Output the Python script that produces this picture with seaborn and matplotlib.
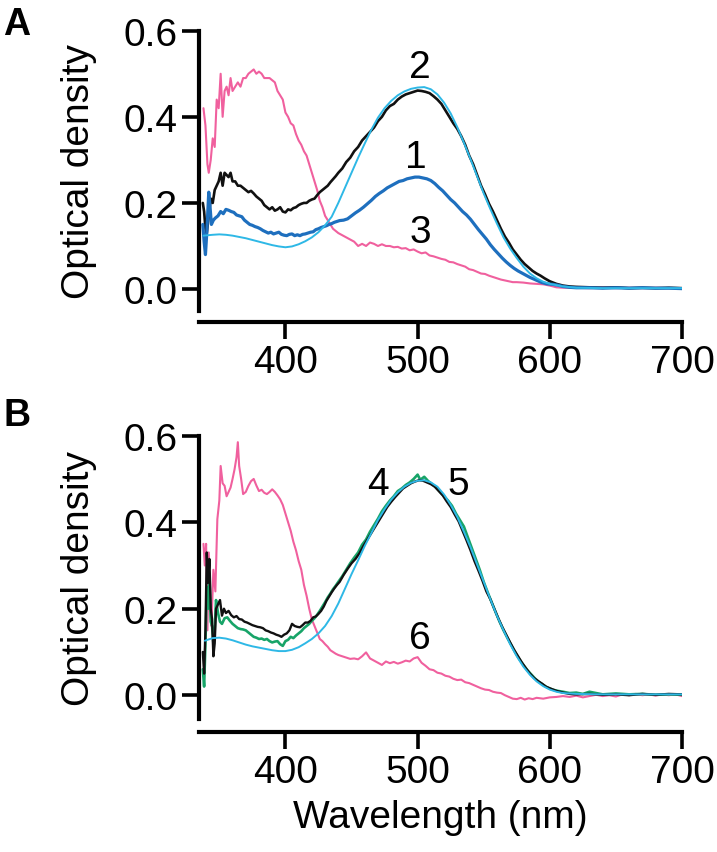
import numpy as np
import pandas as pd
import matplotlib
matplotlib.use("Agg")
import matplotlib.pyplot as plt
import seaborn as sns

# ---------------- Panel A data ----------------
wl_A3 = [338, 339.5, 341, 342, 343.5, 345, 346.5, 348, 349.5, 351, 352.5, 354, 355.5, 357, 358.5, 360,
         362, 364, 366, 368, 370, 372, 374, 376, 378, 380, 382, 384, 386, 388, 390, 392, 394, 396, 398,
         400, 402, 404, 406, 408, 410, 412, 414, 416, 418, 420, 422, 424, 426, 428, 430, 432, 434, 436,
         438, 440, 443, 446, 449, 452, 455, 458, 461, 464, 467, 470, 473, 476, 479, 482, 485, 488, 491,
         494, 497, 500, 503, 506, 509, 512, 515, 518, 521, 524, 527, 530, 533, 536, 539, 542, 545, 548,
         551, 554, 557, 560, 563, 566, 569, 572, 575, 580, 585, 590, 595, 600, 605, 610, 620, 630, 640,
         650, 660, 670, 680, 690, 700]
od_A3 = [0.42, 0.38, 0.29, 0.27, 0.30, 0.35, 0.33, 0.44, 0.42, 0.50, 0.40, 0.46, 0.47, 0.45, 0.49, 0.46,
         0.47, 0.48, 0.47, 0.49, 0.49, 0.50, 0.505, 0.51, 0.50, 0.505, 0.50, 0.49, 0.49, 0.49, 0.485, 0.48,
         0.46, 0.45, 0.44, 0.41, 0.40, 0.385, 0.38, 0.36, 0.345, 0.335, 0.32, 0.31, 0.29, 0.27, 0.25, 0.23,
         0.205, 0.19, 0.17, 0.16, 0.15, 0.14, 0.135, 0.13, 0.125, 0.12, 0.115, 0.11, 0.10, 0.105, 0.10,
         0.108, 0.105, 0.10, 0.104, 0.10, 0.10, 0.097, 0.098, 0.094, 0.095, 0.09, 0.092, 0.087, 0.083,
         0.085, 0.078, 0.076, 0.073, 0.07, 0.068, 0.063, 0.062, 0.058, 0.055, 0.052, 0.046, 0.044, 0.04,
         0.036, 0.035, 0.031, 0.028, 0.025, 0.022, 0.02, 0.018, 0.016, 0.016, 0.015, 0.013, 0.012, 0.011,
         0.008, 0.004, 0.003, 0.003, 0.002, 0.004, 0.002, 0.003, 0.002, 0.003, 0.002, 0.002]

wl_A2 = [337.5, 338.5, 339.5, 340.5, 342, 343.5, 345, 346.5, 348, 349.5, 351, 352.5, 354, 355.5, 357,
         358.5, 360, 362, 364, 366, 368, 370, 372, 374, 376, 378, 380, 382, 384, 386, 388, 390, 392, 394,
         396, 398, 400, 402, 404, 406, 408, 410, 412, 414, 416, 418, 420, 422, 424, 426, 428, 430, 432,
         434, 436, 438, 440, 443, 446, 449, 452, 455, 458, 461, 464, 467, 470, 473, 476, 479, 482, 485,
         488, 491, 494, 497, 500, 503, 506, 509, 512, 515, 518, 521, 524, 527, 530, 533, 536, 539, 542,
         545, 548, 551, 554, 557, 560, 563, 566, 569, 572, 575, 578, 581, 584, 587, 590, 593, 596, 600,
         605, 610, 615, 620, 630, 640, 650, 660, 670, 680, 690, 700]
od_A2 = [0.20, 0.18, 0.14, 0.13, 0.17, 0.21, 0.20, 0.23, 0.24, 0.25, 0.27, 0.24, 0.27, 0.265, 0.26,
         0.27, 0.25, 0.25, 0.24, 0.24, 0.235, 0.23, 0.225, 0.228, 0.222, 0.215, 0.21, 0.205, 0.195, 0.19,
         0.185, 0.19, 0.182, 0.185, 0.19, 0.18, 0.178, 0.185, 0.183, 0.188, 0.19, 0.195, 0.198, 0.20, 0.20,
         0.205, 0.208, 0.21, 0.218, 0.225, 0.23, 0.235, 0.24, 0.248, 0.255, 0.262, 0.27, 0.28, 0.295, 0.305,
         0.32, 0.33, 0.345, 0.355, 0.365, 0.375, 0.39, 0.40, 0.415, 0.425, 0.43, 0.44, 0.447, 0.452, 0.455,
         0.458, 0.461, 0.46, 0.458, 0.455, 0.448, 0.44, 0.43, 0.415, 0.40, 0.385, 0.372, 0.355, 0.335, 0.31,
         0.29, 0.265, 0.24, 0.22, 0.198, 0.18, 0.16, 0.14, 0.122, 0.108, 0.092, 0.08, 0.068, 0.058, 0.05,
         0.042, 0.036, 0.031, 0.025, 0.018, 0.012, 0.008, 0.006, 0.005, 0.004, 0.003, 0.004, 0.002, 0.003,
         0.002, 0.003, 0.002]

wl_A1 = [337.5, 338.5, 339.5, 340.5, 342, 343, 344, 345.5, 347, 349, 351, 353, 355, 357, 359, 361, 363,
         365, 367, 369, 371, 373, 375, 377, 379, 381, 383, 385, 387, 389, 391, 393, 395, 397, 399, 401,
         403, 405, 407, 409, 411, 413, 415, 417, 419, 421, 423, 425, 427, 429, 431, 433, 435, 437, 439,
         441, 444, 447, 450, 453, 456, 459, 462, 465, 468, 471, 474, 477, 480, 483, 486, 489, 492, 495,
         498, 501, 504, 507, 510, 513, 516, 519, 522, 525, 528, 531, 534, 537, 540, 543, 546, 549, 552,
         555, 558, 561, 564, 567, 570, 573, 576, 579, 582, 585, 588, 591, 594, 598, 602, 606, 610, 615,
         620, 630, 640, 650, 660, 670, 680, 690, 700]
od_A1 = [0.15, 0.11, 0.08, 0.13, 0.225, 0.19, 0.15, 0.16, 0.165, 0.17, 0.18, 0.175, 0.185, 0.183, 0.18,
         0.178, 0.172, 0.17, 0.168, 0.16, 0.155, 0.15, 0.148, 0.145, 0.143, 0.14, 0.136, 0.133, 0.13,
         0.132, 0.128, 0.13, 0.132, 0.127, 0.125, 0.124, 0.127, 0.128, 0.124, 0.126, 0.124, 0.127, 0.128,
         0.13, 0.132, 0.133, 0.138, 0.14, 0.143, 0.145, 0.147, 0.15, 0.152, 0.155, 0.157, 0.159, 0.16,
         0.163, 0.17, 0.177, 0.183, 0.19, 0.198, 0.206, 0.215, 0.222, 0.228, 0.235, 0.24, 0.245, 0.25,
         0.252, 0.256, 0.258, 0.26, 0.26, 0.258, 0.256, 0.252, 0.245, 0.236, 0.228, 0.218, 0.208, 0.2,
         0.19, 0.18, 0.172, 0.162, 0.15, 0.138, 0.127, 0.116, 0.103, 0.092, 0.082, 0.072, 0.063, 0.055,
         0.048, 0.042, 0.037, 0.032, 0.027, 0.023, 0.019, 0.015, 0.012, 0.011, 0.009, 0.006, 0.004, 0.003,
         0.003, 0.002, 0.003, 0.002, 0.003, 0.002, 0.002, 0.001]

wl_Afit = [338, 345, 350, 355, 360, 365, 370, 375, 380, 385, 390, 395, 400, 405, 410, 415, 420, 425, 430,
           435, 440, 445, 450, 455, 460, 465, 470, 475, 480, 485, 490, 495, 500, 505, 510, 515, 520, 525,
           530, 535, 540, 545, 550, 555, 560, 565, 570, 575, 580, 585, 590, 595, 600, 605, 610, 620, 640,
           660, 680, 700]
od_Afit = [0.124, 0.126, 0.127, 0.126, 0.124, 0.121, 0.118, 0.114, 0.11, 0.106, 0.102, 0.099, 0.097,
           0.099, 0.104, 0.111, 0.12, 0.132, 0.148, 0.168, 0.2, 0.235, 0.27, 0.305, 0.338, 0.37, 0.398,
           0.42, 0.437, 0.45, 0.459, 0.465, 0.468, 0.469, 0.464, 0.452, 0.433, 0.408, 0.376, 0.34, 0.302,
           0.262, 0.222, 0.186, 0.152, 0.12, 0.094, 0.072, 0.052, 0.036, 0.025, 0.017, 0.012, 0.009, 0.006,
           0.003, 0.002, 0.002, 0.002, 0.002]

# ---------------- Panel B data ----------------
wl_B6 = [338, 339, 340, 341, 342, 343, 344, 345.5, 347, 348.5, 350, 351, 352.5, 354, 355.5, 357, 358.5,
         360, 361.5, 363, 364, 365, 366.5, 368, 370, 372, 374, 376, 378, 380, 382, 384, 386, 388, 390,
         392, 394, 396, 398, 400, 402, 404, 406, 408, 410, 412, 414, 416, 418, 420, 422, 424, 426, 428,
         430, 432, 434, 436, 438, 440, 443, 446, 449, 452, 455, 458, 461, 464, 467, 470, 473, 476, 479,
         482, 485, 488, 491, 494, 497, 500, 503, 506, 509, 512, 515, 518, 521, 524, 527, 530, 533, 536,
         539, 542, 545, 548, 551, 554, 557, 560, 563, 566, 569, 572, 575, 578, 581, 584, 587, 590, 595,
         600, 605, 610, 615, 620, 625, 630, 635, 640, 645, 650, 655, 660, 665, 670, 675, 680, 685, 690,
         695, 700]
od_B6 = [0.35, 0.30, 0.35, 0.15, 0.33, 0.20, 0.16, 0.29, 0.24, 0.407, 0.45, 0.53, 0.49, 0.484, 0.46,
         0.47, 0.48, 0.50, 0.522, 0.55, 0.585, 0.53, 0.50, 0.465, 0.47, 0.484, 0.495, 0.50, 0.485, 0.472,
         0.475, 0.468, 0.465, 0.47, 0.476, 0.47, 0.462, 0.453, 0.44, 0.42, 0.40, 0.38, 0.355, 0.335, 0.31,
         0.29, 0.255, 0.23, 0.20, 0.175, 0.16, 0.145, 0.13, 0.125, 0.118, 0.112, 0.104, 0.1, 0.096, 0.093,
         0.09, 0.087, 0.084, 0.085, 0.083, 0.09, 0.099, 0.085, 0.08, 0.075, 0.07, 0.078, 0.074, 0.077,
         0.073, 0.076, 0.08, 0.078, 0.085, 0.088, 0.075, 0.068, 0.06, 0.058, 0.052, 0.05, 0.045, 0.043,
         0.038, 0.035, 0.036, 0.03, 0.028, 0.024, 0.02, 0.016, 0.013, 0.012, 0.008, 0.006, 0.005, 0.0,
         -0.004, -0.008, -0.009, -0.006, -0.01, -0.007, -0.009, -0.006, -0.008, -0.005, -0.004, -0.002,
         -0.004, -0.001, -0.005, -0.002, 0.001, -0.002, 0.0, -0.003, 0.002, 0.0, 0.003, 0.0, 0.002, -0.001,
         0.002, 0.0, 0.002, -0.002]

wl_B4 = [337.5, 338.5, 339.5, 340.5, 341.5, 342.5, 343.5, 344.5, 345.5, 346.5, 347.5, 349, 350.5, 352,
         353.5, 355, 357, 359, 361, 363, 365, 367, 369, 371, 373, 375, 377, 379, 381, 383, 385, 387, 389,
         391, 393, 395, 397, 399, 401, 403, 405, 407, 409, 411, 413, 415, 417, 419, 421, 423, 425, 427,
         429, 431, 433, 435, 437, 439, 441, 444, 447, 450, 453, 456, 459, 462, 465, 468, 471, 474, 477,
         480, 483, 486, 489, 492, 495, 498, 501, 504, 507, 510, 513, 516, 519, 522, 525, 528, 531, 534,
         537, 540, 543, 546, 549, 552, 555, 558, 561, 564, 567, 570, 573, 576, 579, 582, 585, 588, 591,
         594, 597, 600, 605, 610, 615, 620, 630, 640, 650, 660, 670, 680, 690, 700]
od_B4 = [0.10, 0.05, 0.15, 0.33, 0.26, 0.315, 0.2, 0.176, 0.09, 0.12, 0.2, 0.21, 0.22, 0.184, 0.2, 0.19,
         0.195, 0.185, 0.18, 0.183, 0.176, 0.175, 0.17, 0.168, 0.165, 0.162, 0.16, 0.158, 0.157, 0.155,
         0.15, 0.148, 0.145, 0.143, 0.14, 0.138, 0.135, 0.14, 0.143, 0.15, 0.165, 0.16, 0.158, 0.157, 0.162,
         0.168, 0.168, 0.172, 0.18, 0.182, 0.188, 0.195, 0.205, 0.218, 0.228, 0.238, 0.247, 0.255, 0.262,
         0.278, 0.292, 0.305, 0.315, 0.328, 0.345, 0.36, 0.375, 0.39, 0.405, 0.42, 0.435, 0.447, 0.458,
         0.468, 0.478, 0.484, 0.49, 0.494, 0.497, 0.496, 0.492, 0.488, 0.482, 0.472, 0.462, 0.448, 0.435,
         0.418, 0.402, 0.38, 0.358, 0.335, 0.31, 0.288, 0.265, 0.24, 0.222, 0.2, 0.178, 0.158, 0.14, 0.122,
         0.105, 0.09, 0.075, 0.062, 0.05, 0.04, 0.033, 0.027, 0.02, 0.016, 0.01, 0.006, 0.003, 0.002,
         0.003, 0.001, 0.002, 0.0, 0.003, 0.001, 0.003, 0.002]

wl_B5 = [337.5, 338.5, 339.5, 340.5, 341.5, 342.5, 343.5, 344.5, 345.5, 346.5, 347.5, 349, 350.5, 352,
         354, 356, 358, 360, 362, 364, 366, 368, 370, 372, 374, 376, 378, 380, 382, 384, 386, 388, 390,
         392, 394, 396, 398, 400, 402, 404, 406, 408, 410, 412, 414, 416, 418, 420, 422, 424, 426, 428,
         430, 432, 434, 436, 438, 440, 443, 446, 449, 452, 455, 458, 461, 464, 467, 470, 473, 476, 479,
         482, 485, 488, 491, 494, 497, 500, 502, 505, 508, 511, 514, 517, 520, 523, 526, 529, 532, 535,
         538, 541, 544, 547, 550, 553, 556, 559, 562, 565, 568, 571, 574, 577, 580, 583, 586, 589, 592,
         595, 598, 602, 606, 610, 615, 620, 625, 630, 640, 650, 660, 670, 680, 690, 700]
od_B5 = [0.06, 0.02, 0.12, 0.25, 0.20, 0.28, 0.17, 0.16, 0.12, 0.15, 0.22, 0.19, 0.17, 0.165, 0.178,
         0.18, 0.172, 0.165, 0.16, 0.155, 0.153, 0.152, 0.15, 0.145, 0.14, 0.135, 0.133, 0.13, 0.131,
         0.128, 0.13, 0.125, 0.122, 0.124, 0.125, 0.118, 0.114, 0.125, 0.128, 0.135, 0.132, 0.138, 0.143,
         0.148, 0.155, 0.16, 0.165, 0.172, 0.178, 0.186, 0.195, 0.205, 0.215, 0.226, 0.235, 0.245, 0.253,
         0.262, 0.275, 0.29, 0.305, 0.318, 0.33, 0.348, 0.36, 0.378, 0.393, 0.408, 0.425, 0.438, 0.45,
         0.46, 0.472, 0.478, 0.486, 0.492, 0.5, 0.51, 0.498, 0.505, 0.495, 0.488, 0.48, 0.47, 0.46, 0.45,
         0.438, 0.42, 0.405, 0.39, 0.365, 0.34, 0.315, 0.29, 0.262, 0.238, 0.215, 0.192, 0.17, 0.15, 0.132,
         0.115, 0.098, 0.083, 0.07, 0.058, 0.048, 0.038, 0.03, 0.024, 0.018, 0.013, 0.01, 0.008, 0.005,
         0.006, 0.003, 0.008, 0.002, 0.004, 0.002, 0.003, 0.001, 0.002, 0.001]

wl_Bfit = [339, 345, 350, 355, 360, 365, 370, 375, 380, 385, 390, 395, 400, 405, 410, 415, 420, 425, 430,
           435, 440, 445, 450, 455, 460, 465, 470, 475, 480, 485, 490, 495, 500, 505, 510, 515, 520, 525,
           530, 535, 540, 545, 550, 555, 560, 565, 570, 575, 580, 585, 590, 595, 600, 605, 610, 620, 640,
           660, 680, 700]
od_Bfit = [0.126, 0.132, 0.133, 0.131, 0.127, 0.122, 0.117, 0.113, 0.11, 0.107, 0.104, 0.102, 0.102,
           0.105, 0.111, 0.12, 0.13, 0.143, 0.16, 0.183, 0.212, 0.246, 0.28, 0.312, 0.345, 0.375, 0.405,
           0.43, 0.452, 0.469, 0.482, 0.491, 0.496, 0.497, 0.492, 0.482, 0.464, 0.44, 0.412, 0.378, 0.342,
           0.302, 0.262, 0.222, 0.184, 0.15, 0.118, 0.09, 0.066, 0.047, 0.032, 0.021, 0.013, 0.008, 0.005,
           0.003, 0.002, 0.002, 0.002, 0.002]

x_ticks = [400, 500, 600, 700]
y_ticks = [0.0, 0.2, 0.4, 0.6]
y_tick_labels = ["0.0", "0.2", "0.4", "0.6"]

labels_A = ["2", "1", "3"]
label_pos_A = [(502, 0.516), (499, 0.307), (502, 0.133)]
labels_B = ["4", "5", "6"]
label_pos_B = [(470, 0.489), (531, 0.489), (501.5, 0.132)]

PINK = "#F0609E"
BLACK = "#111111"
DBLUE = "#1E6FBE"
CYAN = "#2EB8E6"
GREEN = "#17A468"

sns.set_style("ticks", {"axes.edgecolor": "black", "xtick.color": "black",
                        "ytick.color": "black", "text.color": "black",
                        "axes.labelcolor": "black"})
plt.rcParams["font.family"] = ["Liberation Sans", "DejaVu Sans"]
FS = 28

W, H = 717, 853
fig = plt.figure(figsize=(W / 100, H / 100), dpi=100)

axA = fig.add_axes([199.5 / W, 1 - 312 / H, 482.5 / W, (312 - 31.7) / H])
axB = fig.add_axes([199.5 / W, 1 - 720 / H, 482.5 / W, (720 - 436.7) / H])


def draw(ax, series):
    for wl, od, col, lw in series:
        df = pd.DataFrame({"wl": wl, "od": od})
        sns.lineplot(data=df, x="wl", y="od", color=col, linewidth=lw, ax=ax,
                     sort=False, estimator=None)


draw(axA, [(wl_A3, od_A3, PINK, 1.5), (wl_A2, od_A2, BLACK, 1.9),
           (wl_A1, od_A1, DBLUE, 2.3), (wl_Afit, od_Afit, CYAN, 1.4)])
draw(axB, [(wl_B6, od_B6, PINK, 1.5), (wl_B5, od_B5, GREEN, 1.9),
           (wl_B4, od_B4, BLACK, 1.7), (wl_Bfit, od_Bfit, CYAN, 1.4)])

for ax, ymin, off in [(axA, -0.051, 8), (axB, -0.055, 9)]:
    ax.set_xlim(335, 700)
    ax.set_ylim(ymin, 0.6)
    sns.despine(ax=ax)
    ax.spines["bottom"].set_position(("outward", off))
    for s in ["left", "bottom"]:
        ax.spines[s].set_linewidth(3)
        ax.spines[s].set_color("black")
    ax.set_xticks(x_ticks)
    ax.set_xticklabels([str(t) for t in x_ticks])
    ax.set_yticks(y_ticks)
    ax.set_yticklabels(y_tick_labels)
    ax.tick_params(axis="both", length=12, width=2.6, labelsize=FS, color="black",
                   labelcolor="black")
    ax.tick_params(axis="y", pad=4)
    ax.tick_params(axis="x", pad=4)
    ax.set_ylabel("Optical density", fontsize=FS, labelpad=19, color="black")
    ax.set_xlabel("")

axB.set_xlabel("Wavelength (nm)", fontsize=FS, labelpad=7, color="black")

for t, (x, y) in zip(labels_A, label_pos_A):
    axA.text(x, y, t, fontsize=FS, ha="center", va="center", color="black")
for t, (x, y) in zip(labels_B, label_pos_B):
    axB.text(x, y, t, fontsize=FS, ha="center", va="center", color="black")

fig.text(3 / W, 1 - 25 / H, "A", fontsize=27, fontweight="bold", va="center", ha="left",
         color="black")
fig.text(3 / W, 1 - 416 / H, "B", fontsize=27, fontweight="bold", va="center", ha="left",
         color="black")

fig.savefig("out.png", dpi=100)
